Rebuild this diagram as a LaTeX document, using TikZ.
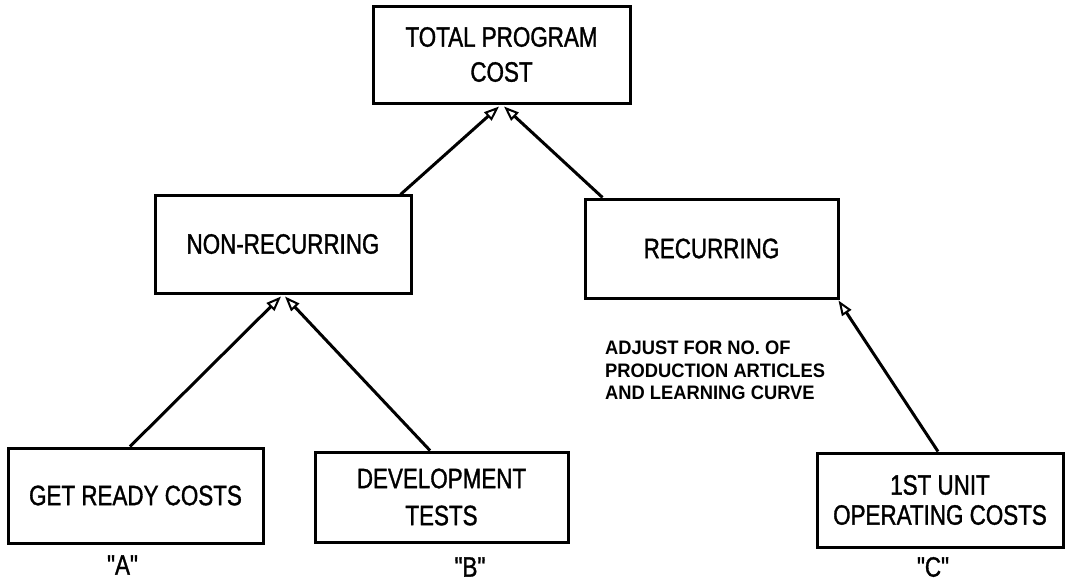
\documentclass[tikz,border=0pt]{standalone}
\usepackage{fontspec}
\usetikzlibrary{arrows.meta,calc}
% condensed sans for the boxes, a heavier one for the side note
\newfontfamily\boxfont[FakeStretch=0.8,FakeBold=1.2]{Liberation Sans}
\newfontfamily\notefont[FakeStretch=0.94]{Liberation Sans}
\begin{document}
\begin{tikzpicture}[x=1pt,y=-1pt,
  costbox/.style={draw,line width=3pt,inner sep=0pt,align=center,
    font=\boxfont\fontsize{28}{35}\selectfont},
  flow/.style={line width=3pt,
    -{Triangle[open,length=15pt,width=11pt,line width=2pt]}},
  tag/.style={inner sep=0pt,font=\boxfont\fontsize{28}{34}\selectfont},
  note/.style={inner sep=0pt,align=left,
    font=\notefont\bfseries\fontsize{19.5}{22.3}\selectfont}]
\useasboundingbox (0,0) rectangle (1065,582);

% cost elements
\node[costbox,minimum width=257pt,minimum height=97pt] (total) at (501.5,54.5)
  {TOTAL PROGRAM\\COST};
\node[costbox,minimum width=256pt,minimum height=98pt] (nonrec) at (283,244)
  {NON-RECURRING};
\node[costbox,minimum width=253pt,minimum height=99pt] (rec) at (711.5,248.5)
  {RECURRING};
\node[costbox,minimum width=255pt,minimum height=95pt] (ready) at (135.5,495.5)
  {GET READY COSTS};
\node[costbox,minimum width=253pt,minimum height=90pt,
  font=\boxfont\fontsize{28}{37}\selectfont] (devtest) at (441.5,497)
  {DEVELOPMENT\\TESTS};
\node[costbox,minimum width=246pt,minimum height=94pt,
  font=\boxfont\fontsize{28}{30}\selectfont] (unit) at (940,500)
  {1ST UNIT\\OPERATING COSTS};

% letter tags under the inputs
\node[tag] (tagA) at (122.5,565) {"A"};
\node[tag] (tagB) at (470,567) {"B"};
\node[tag] (tagC) at (933,567) {"C"};

% side note
\node[note,anchor=north west] (adjust) at (605,341)
  {ADJUST FOR NO. OF\\PRODUCTION ARTICLES\\AND LEARNING CURVE};

% roll-up arrows
\draw[flow] ($(nonrec.north east)+(-12,1)$) -- ($(total.south)+(-2.5,2)$);
\draw[flow] ($(rec.north west)+(19,0)$) -- ($(total.south)+(2.5,2)$);
\draw[flow] ($(ready.north)+(-5.5,0)$) -- ($(nonrec.south)+(-2,2)$);
\draw[flow] ($(devtest.north)+(-11.5,0)$) -- ($(nonrec.south)+(2,2)$);
\draw[flow] ($(unit.north)+(-2,0)$) -- ($(rec.south east)+(-1,1)$);
\end{tikzpicture}
\end{document}
